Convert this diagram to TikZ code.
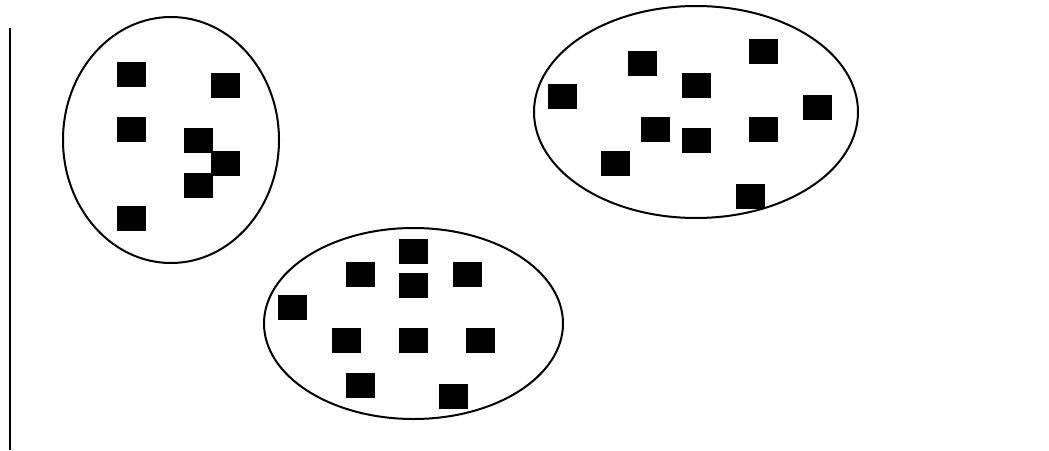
\documentclass[tikz,border=0pt]{standalone}
\usetikzlibrary{shapes.geometric}
\begin{document}
\begin{tikzpicture}[x=1pt,y=-1pt,
  blob/.style={draw,ellipse,line width=2pt,inner sep=0pt},
  blk/.style={fill=black,rectangle,inner sep=0pt,minimum width=29pt,minimum height=25pt}]
\useasboundingbox (0,0) rectangle (1049,450);
\coordinate (top) at (10,28);
\coordinate (bot) at (10,450);
\draw[line width=2pt] (top) -- (bot);
% left cluster
\node[blob,minimum width=216pt,minimum height=246pt] (gA) at (171,140) {};
\foreach \x/\y [count=\i] in {131/74,225/85,131/129,198/140,225/163,198/185,131/218}
  \node[blk] (a\i) at (\x,\y) {};
% right cluster
\node[blob,minimum width=324pt,minimum height=212pt] (gB) at (696,112) {};
\foreach \x/\y [count=\i] in {642/63,763/51,696/85,562/96,817/107,655/129,696/140,763/129,615/163,750/196}
  \node[blk] (b\i) at (\x,\y) {};
% bottom cluster
\node[blob,minimum width=299pt,minimum height=191pt] (gC) at (413.5,323.5) {};
\foreach \x/\y [count=\i] in {413/251,360/274,467/274,413/285,292/307,346/340,413/340,480/340,360/385,453/396}
  \node[blk] (c\i) at (\x,\y) {};
\end{tikzpicture}
\end{document}
